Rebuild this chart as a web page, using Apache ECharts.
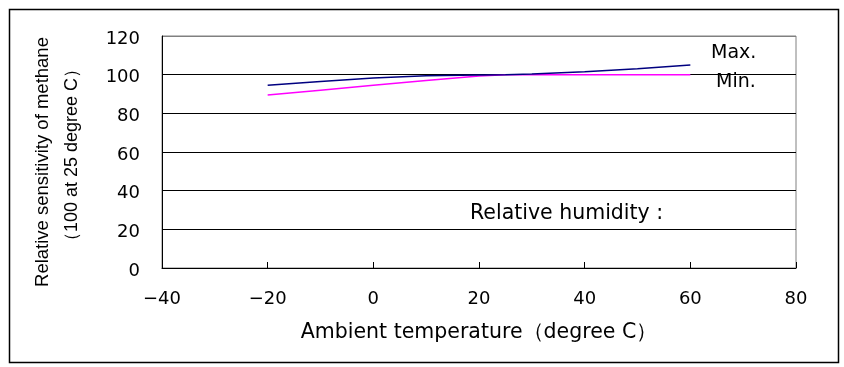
<!DOCTYPE html>
<html><head><meta charset="utf-8">
<script src="https://cdn.jsdelivr.net/npm/echarts@6/dist/echarts.min.js"></script>
<style>html,body{margin:0;padding:0;background:#fff}#c{width:844px;height:367px}</style>
</head><body><div id="c"></div>
<script>
const temps = [-20, -10, 0, 10, 20, 25, 30, 40, 50, 60];
const maxVals = [94.5, 96.5, 98.3, 99.4, 99.8, 100, 100.3, 101.5, 103, 105];
const minVals = [89.5, 92, 94.5, 97, 99.3, 100, 100, 100, 100, 100];
const xTicks = [-40, -20, 0, 20, 40, 60, 80];
const yTicks = [0, 20, 40, 60, 80, 100, 120];
const yTitle1 = 'Relative sensitivity of methane';
const yTitle2 = '（100 at 25 degree C）';

const tickFont = 'DejaVu Sans';
const chart = echarts.init(document.getElementById('c'), null, {renderer: 'canvas'});
chart.setOption({
  animation: false,
  backgroundColor: '#fff',
  grid: {left: 162, right: 48, top: 36, bottom: 99, show: true, borderColor: '#808080', borderWidth: 1},
  xAxis: {
    type: 'value', min: xTicks[0], max: xTicks[xTicks.length - 1], interval: 20,
    name: 'Ambient temperature（degree C）', nameLocation: 'middle', nameGap: 54,
    nameTextStyle: {fontFamily: 'DejaVu Sans', fontSize: 20.5, color: '#000'},
    axisLine: {show: true, onZero: false, lineStyle: {color: '#000', width: 1}},
    axisTick: {show: true, inside: true, length: 6, lineStyle: {color: '#000'}},
    axisLabel: {color: '#000', fontFamily: tickFont, fontSize: 18, margin: 22,
      formatter: v => (v < 0 ? '\u2212' + (-v) : String(v))},
    splitLine: {show: false}
  },
  yAxis: {
    type: 'value', min: yTicks[0], max: yTicks[yTicks.length - 1], interval: 20,
    axisLine: {show: true, onZero: false, lineStyle: {color: '#000', width: 1}},
    axisTick: {show: false},
    axisLabel: {color: '#000', fontFamily: tickFont, fontSize: 18, margin: 22,
      formatter: v => '{a|' + v + '}',
      rich: {a: {fontFamily: tickFont, fontSize: 18, color: '#000', padding: [6, 0, 0, 0]}}},
    splitLine: {show: true, lineStyle: {color: ['#000', '#000', '#000', '#000', '#000', '#000', '#808080'], width: 1}}
  },
  series: [
    {name: 'Max.', type: 'line', data: temps.map((t, i) => [t, maxVals[i]]), symbol: 'none',
      lineStyle: {color: '#000080', width: 1.5}, z: 3},
    {name: 'Min.', type: 'line', data: temps.map((t, i) => [t, minVals[i]]), symbol: 'none',
      lineStyle: {color: '#FF00FF', width: 1.5}, z: 2}
  ],
  graphic: [
    {type: 'rect', left: 7, top: 7, shape: {width: 829, height: 353},
      style: {fill: 'none', stroke: '#000', lineWidth: 1.5}, silent: true},
    {type: 'text', x: 43, y: 162, rotation: Math.PI / 2,
      style: {text: yTitle1, font: '18.5px "Liberation Sans"', fill: '#000', align: 'center', verticalAlign: 'middle'}},
    {type: 'text', x: 72, y: 155, rotation: Math.PI / 2,
      style: {text: yTitle2, font: '18px "Liberation Sans"', fill: '#000', align: 'center', verticalAlign: 'middle'}},
    {type: 'text', left: 711, top: 44, style: {text: 'Max.', font: '19px "DejaVu Sans"', fill: '#000'}},
    {type: 'text', left: 716, top: 73, style: {text: 'Min.', font: '19px "DejaVu Sans"', fill: '#000'}},
    {type: 'text', left: 470, top: 203, style: {text: 'Relative humidity :', font: '20.5px "DejaVu Sans"', fill: '#000'}}
  ]
});
</script></body></html>
